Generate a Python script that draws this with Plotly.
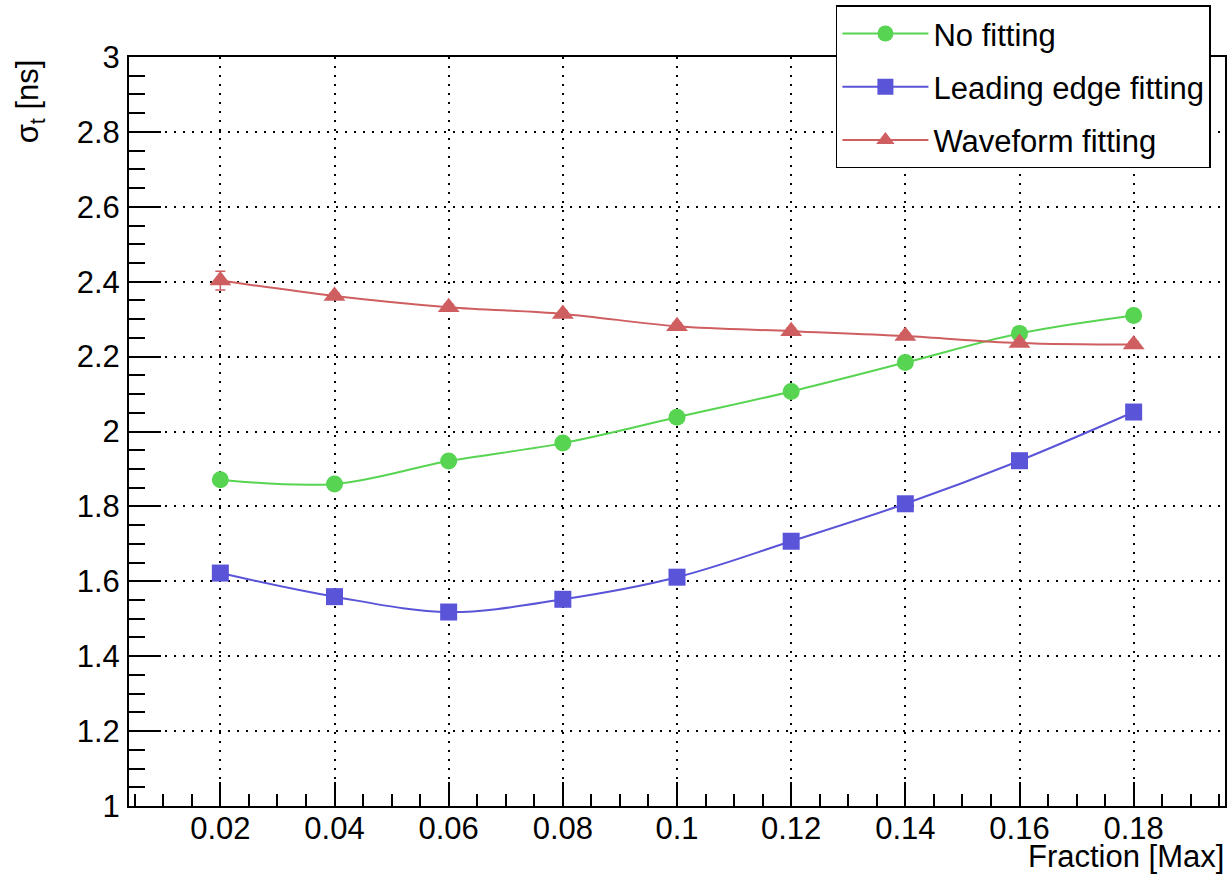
import plotly.graph_objects as go

# ---- data ----
fraction = [0.02, 0.04, 0.06, 0.08, 0.10, 0.12, 0.14, 0.16, 0.18]
no_fitting = [1.871, 1.860, 1.921, 1.969, 2.038, 2.107, 2.184, 2.262, 2.310]
leading_edge = [1.622, 1.559, 1.518, 1.552, 1.611, 1.707, 1.807, 1.922, 2.052]
waveform = [2.403, 2.362, 2.332, 2.314, 2.281, 2.268, 2.255, 2.236, 2.232]
waveform_err = [0.025, 0.008, 0.008, 0.008, 0.008, 0.008, 0.008, 0.008, 0.008]

x_ticks = [0.02, 0.04, 0.06, 0.08, 0.10, 0.12, 0.14, 0.16, 0.18]
x_ticktext = ["0.02", "0.04", "0.06", "0.08", "0.1", "0.12", "0.14", "0.16", "0.18"]
y_ticks = [1, 1.2, 1.4, 1.6, 1.8, 2, 2.2, 2.4, 2.6, 2.8, 3]
y_ticktext = ["1", "1.2", "1.4", "1.6", "1.8", "2", "2.2", "2.4", "2.6", "2.8", "3"]

GREEN = "#57d451"
BLUE = "#5a54d8"
RED = "#cf5e61"
FONT = "Liberation Sans, Arial, sans-serif"
FS = 31

fig = go.Figure()
fig.add_trace(go.Scatter(
    x=fraction, y=no_fitting, name="No fitting", mode="lines+markers",
    line=dict(color=GREEN, width=2, shape="spline", smoothing=1.0),
    marker=dict(symbol="circle", size=17, color=GREEN),
    legendgroup="a",
))
fig.add_trace(go.Scatter(
    x=fraction, y=leading_edge, name="Leading edge fitting", mode="lines+markers",
    line=dict(color=BLUE, width=2, shape="spline", smoothing=1.0),
    marker=dict(symbol="square", size=17, color=BLUE),
    legendgroup="b",
))
fig.add_trace(go.Scatter(
    x=fraction, y=waveform, name="Waveform fitting", mode="lines+markers",
    line=dict(color=RED, width=2, shape="spline", smoothing=1.0),
    marker=dict(symbol="triangle-up", size=19, color=RED),
    error_y=dict(type="data", array=waveform_err, color=RED, thickness=1.5, width=5),
    legendgroup="c",
))

axis_common = dict(
    showline=True, linecolor="black", linewidth=2, mirror=True,
    ticks="inside", tickcolor="black", tickwidth=1.5,
    showgrid=True, gridcolor="black", gridwidth=1.6, griddash="2px,7px",
    zeroline=False,
    tickfont=dict(family=FONT, size=FS, color="black"),
)

fig.update_xaxes(
    range=[0.004, 0.196], tickmode="array", tickvals=x_ticks, ticktext=x_ticktext,
    ticklen=24, ticklabelstandoff=-6,
    minor=dict(dtick=0.005, tick0=0, ticks="inside", ticklen=12, tickcolor="black",
               tickwidth=1.5, showgrid=False),
    **axis_common,
)
fig.update_yaxes(
    range=[1, 3], tickmode="array", tickvals=y_ticks, ticktext=y_ticktext,
    ticklen=32, ticklabelstandoff=1,
    minor=dict(dtick=0.05, tick0=0, ticks="inside", ticklen=16, tickcolor="black",
               tickwidth=1.5, showgrid=False),
    **axis_common,
)

fig.add_annotation(
    text="σ<sub>t</sub> [ns]", textangle=-90, xref="paper", yref="paper",
    x=-0.090, y=1.0, xanchor="center", yanchor="top", showarrow=False,
    font=dict(family=FONT, size=FS, color="black"),
)
fig.add_annotation(
    text="Fraction [Max]", xref="paper", yref="paper",
    x=1.0, y=-0.0915, xanchor="right", yanchor="bottom", showarrow=False,
    font=dict(family=FONT, size=FS, color="black"), borderpad=0,
)

fig.update_layout(
    width=1231, height=875, autosize=False,
    margin=dict(l=129, r=4, t=57, b=69),
    paper_bgcolor="white", plot_bgcolor="white",
    font=dict(family=FONT, size=FS, color="black"),
    showlegend=True,
    legend=dict(
        x=0.645, y=1.069, xanchor="left", yanchor="top",
        bgcolor="white", bordercolor="black", borderwidth=1.5,
        font=dict(family=FONT, size=FS, color="black"),
        traceorder="grouped", tracegroupgap=10, itemwidth=86,
    ),
)

fig.write_html("out.html")
